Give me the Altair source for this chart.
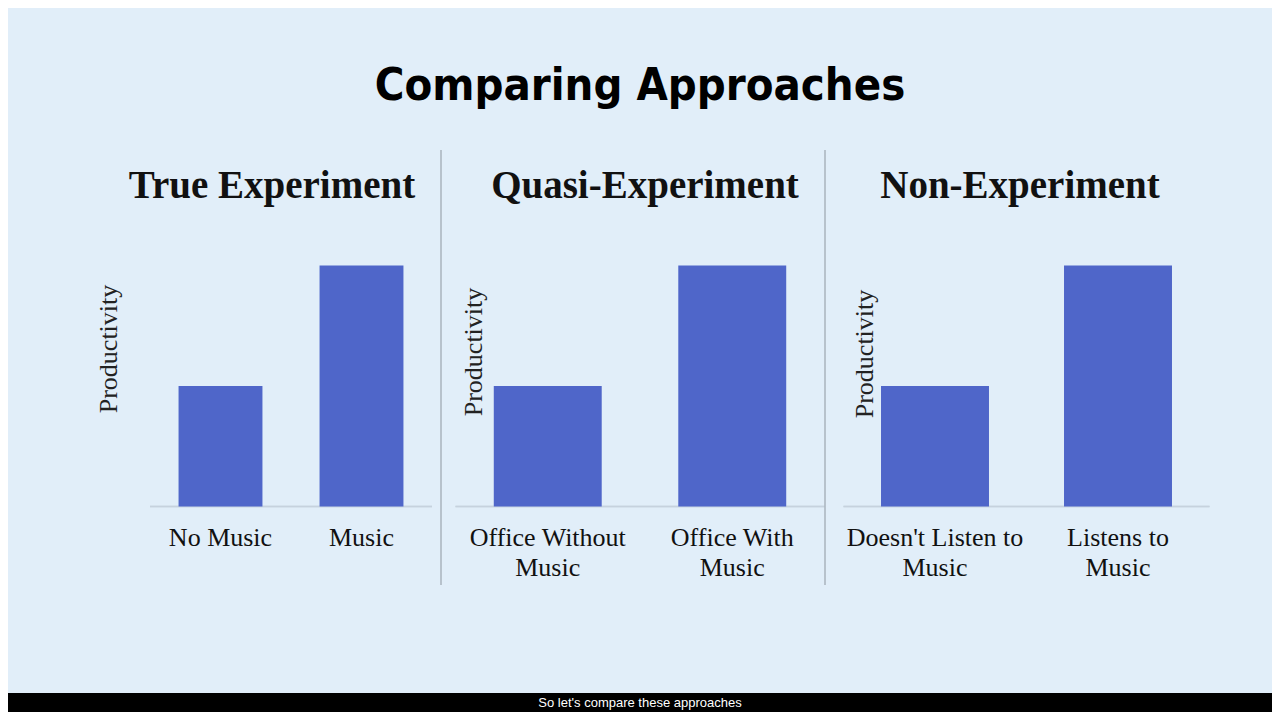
import altair as alt
import pandas as pd

# ---------------- data ----------------
main_title = "Comparing Approaches"
panel_titles = ["True Experiment", "Quasi-Experiment", "Non-Experiment"]
categories = [
    ["No Music", "Music"],
    ["Office Without\nMusic", "Office With\nMusic"],
    ["Doesn't Listen to\nMusic", "Listens to\nMusic"],
]
productivity = [
    [2, 4],
    [2, 4],
    [2, 4],
]
y_title = "Productivity"
caption = "So let's compare these approaches"

# ---------------- style / layout ----------------
W, H = 1264, 704
BG = "#e1eef9"
BAR = "#4f66c9"
SERIF = "Liberation Serif"
TXT = "#111111"
COND = "'Liberation Sans Narrow', 'DejaVu Sans Condensed', 'Roboto Condensed', Roboto, sans-serif"

x_ranges = [[142, 424], [447.5, 816.5], [835.5, 1201.5]]
bar_frac = [0.595, 0.585, 0.59]
title_x = [264, 637, 1012]
ytitle_pos = [(109, 341), (474, 344), (865, 346)]
y_range = [498.5, 257.5]
divider_x = [433, 817]

dummy = pd.DataFrame({"k": [0]})

layers = []
for i in range(3):
    df = pd.DataFrame({"cat": categories[i], "value": productivity[i]})
    yscale = alt.Scale(domain=[0, 4], range=y_range, nice=False)
    xs = alt.X(
        "cat:N",
        axis=None,
        scale=alt.Scale(domain=categories[i], range=x_ranges[i],
                        paddingInner=0, paddingOuter=0),
    )
    ys = alt.Y("value:Q", axis=None, scale=yscale)
    base = alt.Chart(df)
    rule = base.mark_rule(color="#c6d2de", strokeWidth=1.5).encode(
        x=alt.value(x_ranges[i][0]), x2=alt.value(x_ranges[i][1]),
        y=alt.Y("zero:Q", axis=None, scale=yscale),
    ).transform_calculate(zero="0")
    bars = base.mark_bar(color=BAR, width=alt.RelativeBandSize(bar_frac[i])).encode(
        x=xs, y=ys
    )
    labels = base.mark_text(
        font=SERIF, fontSize=26, color=TXT, baseline="top", align="center",
        lineBreak="\n", lineHeight=30,
    ).encode(x=xs, y=alt.value(517), text="cat:N")
    ptitle = alt.Chart(dummy).mark_text(
        font=SERIF, fontSize=39, fontWeight="bold", color=TXT,
        baseline="alphabetic", align="center",
    ).encode(x=alt.value(title_x[i]), y=alt.value(190),
             text=alt.value(panel_titles[i]))
    ytl = alt.Chart(dummy).mark_text(
        font=SERIF, fontSize=26, color="#222222", angle=270,
        baseline="alphabetic", align="center",
    ).encode(x=alt.value(ytitle_pos[i][0]), y=alt.value(ytitle_pos[i][1]),
             text=alt.value(y_title))
    layers.append(alt.layer(rule, bars, labels, ptitle, ytl))

dividers = [
    alt.Chart(dummy).mark_rule(color="#a9b3bd", strokeWidth=1.5).encode(
        x=alt.value(dx), y=alt.value(142), y2=alt.value(577)
    )
    for dx in divider_x
]

title = alt.Chart(dummy).mark_text(
    font=COND, fontSize=45, fontWeight="bold",
    color="#000000", baseline="alphabetic", align="center",
).encode(x=alt.value(632), y=alt.value(92), text=alt.value(main_title))

band = alt.Chart(dummy).mark_rect(color="#000000").encode(
    x=alt.value(-10), x2=alt.value(W + 10), y=alt.value(685), y2=alt.value(H + 10)
)
cap = alt.Chart(dummy).mark_text(
    font="Liberation Sans", fontSize=13, color="#ffffff",
    baseline="middle", align="center",
).encode(x=alt.value(632), y=alt.value(695), text=alt.value(caption))

chart = (
    alt.layer(*layers, *dividers, title, band, cap)
    .resolve_scale(x="independent")
    .properties(width=W, height=H, padding=0,
                autosize=alt.AutoSizeParams(type="none"),
                background=BG)
    .configure_view(stroke=None)
)

chart.save("out.html", embed_options={"renderer": "svg", "actions": False})
